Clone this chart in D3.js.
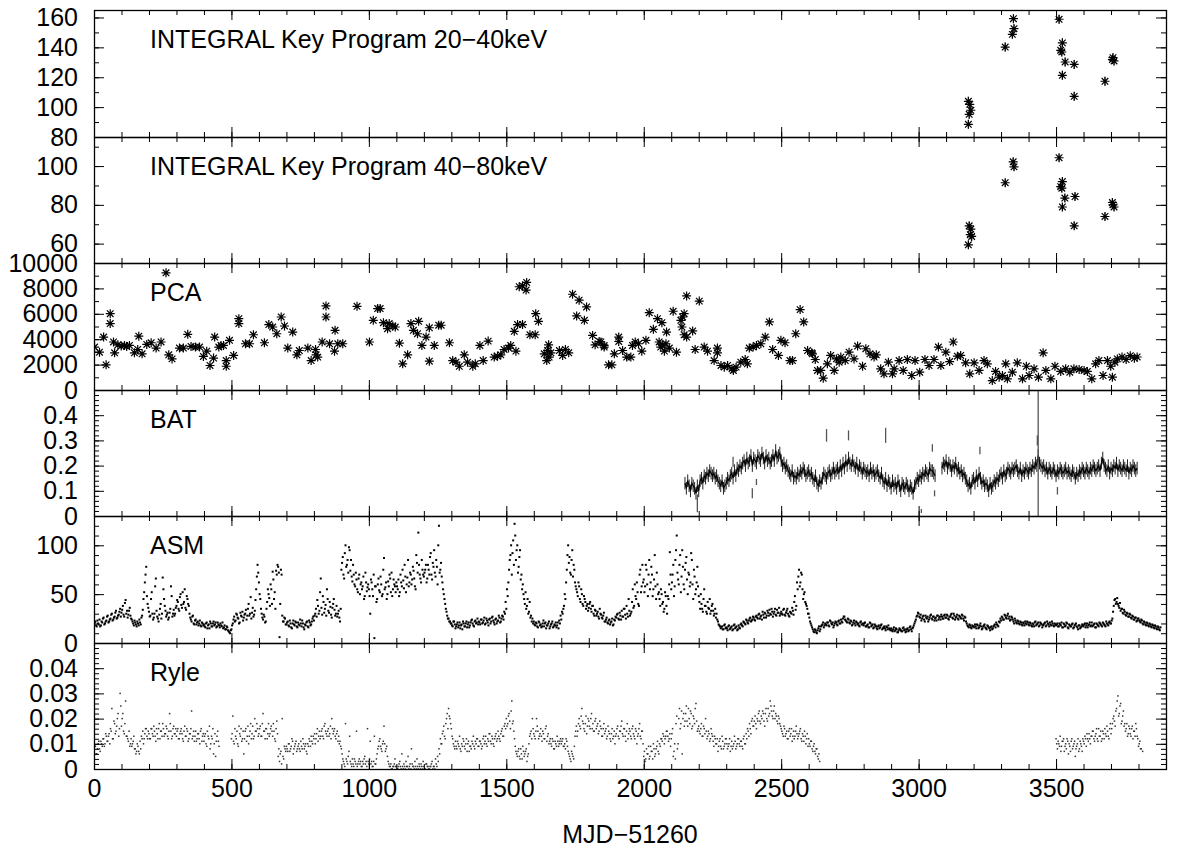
<!DOCTYPE html>
<html>
<head>
<meta charset="utf-8">
<script src="https://cdn.jsdelivr.net/npm/d3@7"></script>
<style>
  body { margin: 0; background: #fff; }
</style>
</head>
<body>
<script>

// ---- data ----

// INTEGRAL Key Programme, [day, flux, err]
const ibis2040 = [[3181,88.5,3],[3184,95.2,3],[3190,97.9,3],[3186,101.9,3],[3181,103.9,3],[3315,140.2,3],[3341,148.7,3],[3347,152.5,3],[3345,159.2,3],[3511,158.8,3],[3517,138.0,3],[3523,143.0,3],[3521,136.9,3],[3523,121.3,3],[3533,130.2,3],[3566,128.6,3],[3566,107.2,3],[3678,117.3,3],[3705,131.8,3],[3711,130.9,3],[3707,133.1,3]];
const ibis4080 = [[3181,59.4,2],[3184,69.2,2],[3190,67.5,2],[3188,64.6,2],[3193,63.7,2],[3315,91.4,2],[3344,102.2,2],[3347,99.6,2],[3511,104.3,2],[3523,92.0,2],[3517,89.4,2],[3521,88.6,2],[3532,83.5,2],[3569,84.3,2],[3523,78.9,2],[3566,69.2,2],[3678,74.0,2],[3705,81.2,2],[3711,78.9,2],[3707,80.0,2]];

// RXTE PCA, [day, rate]
const pca = [[2,3380],[20,2980],[35,4170],[44,1980],[59,6010],[59,5230],[71,3780],[75,2930],[87,3560],[99,3460],[111,3510],[119,3430],[129,3510],[147,2930],[159,3190],[163,4240],[175,2850],[192,3590],[208,3720],[226,3300],[244,3780],[262,9230],[272,2770],[284,2450],[311,3300],[325,3300],[341,4380],[353,3430],[369,3380],[384,3380],[398,2640],[410,3060],[422,1930],[435,2510],[439,4170],[454,3380],[462,3510],[471,3510],[481,2320],[481,1870],[493,3910],[508,2720],[527,5620],[527,5230],[551,3640],[566,3640],[580,4350],[620,3720],[636,5150],[650,4960],[665,4430],[681,5750],[693,5040],[705,3300],[723,4560],[738,2770],[747,3110],[778,3300],[790,2320],[806,3190],[808,2770],[814,2590],[830,3780],[844,5750],[844,6620],[857,3640],[875,3060],[877,4700],[887,3640],[905,3640],[957,6590],[1002,3780],[1016,5490],[1032,6410],[1041,6410],[1053,5300],[1068,4830],[1074,5230],[1087,5040],[1096,4960],[1111,3690],[1123,2060],[1141,2770],[1153,5230],[1162,4700],[1177,4430],[1181,5410],[1193,3510],[1208,4170],[1220,2270],[1220,4900],[1238,3510],[1254,5100],[1263,5100],[1293,3720],[1305,2320],[1317,2190],[1329,1870],[1347,2770],[1359,2190],[1378,1870],[1387,2060],[1404,3510],[1416,2320],[1434,3850],[1456,2590],[1468,2660],[1480,2770],[1492,3190],[1508,3300],[1516,3510],[1529,4620],[1535,3060],[1541,5150],[1547,8130],[1559,5150],[1559,8210],[1572,7870],[1574,8470],[1586,4350],[1605,4350],[1607,6010],[1617,5410],[1638,2850],[1647,2320],[1650,3110],[1654,3560],[1656,2590],[1662,2930],[1693,3110],[1705,2720],[1715,3190],[1727,2930],[1741,7540],[1756,5830],[1765,7070],[1784,5490],[1792,6540],[1814,4300],[1823,3560],[1838,3820],[1844,3780],[1856,3510],[1856,3380],[1872,1980],[1884,1980],[1893,2850],[1909,4170],[1909,3820],[1923,3110],[1938,2590],[1953,2590],[1959,3510],[1969,3780],[1981,3640],[1993,3060],[2008,3910],[2020,6090],[2035,4780],[2050,5620],[2056,3780],[2062,3380],[2066,5300],[2068,3560],[2075,3060],[2081,3640],[2083,4560],[2093,3300],[2107,6200],[2119,2980],[2135,5490],[2139,4960],[2141,5750],[2147,6010],[2147,4350],[2156,7410],[2156,4170],[2178,4650],[2187,3190],[2202,7000],[2220,3380],[2232,3060],[2256,2320],[2268,3300],[2268,2930],[2281,1930],[2293,1800],[2305,1930],[2321,1670],[2326,1540],[2336,1800],[2353,2190],[2369,2400],[2377,2060],[2384,3300],[2398,3380],[2410,3510],[2426,3640],[2442,4170],[2457,5360],[2469,3190],[2490,2720],[2499,3910],[2514,3720],[2532,2320],[2541,2320],[2553,4430],[2569,6330],[2582,5360],[2596,3110],[2611,2930],[2614,2850],[2624,2400],[2632,1540],[2644,1540],[2653,930],[2668,2060],[2680,2720],[2693,1540],[2701,2450],[2711,2190],[2717,2590],[2733,2320],[2747,2980],[2765,2450],[2778,3460],[2796,1870],[2808,3250],[2823,2850],[2838,2590],[2846,2770],[2862,1670],[2874,1270],[2890,2190],[2905,1270],[2911,1670],[2929,2320],[2944,1540],[2959,2400],[2975,1140],[2987,2320],[3004,1400],[3023,2400],[3038,1930],[3056,2400],[3072,3380],[3081,1930],[3099,2980],[3113,2240],[3126,3780],[3141,2660],[3153,2720],[3171,2140],[3186,1270],[3202,2140],[3220,1540],[3238,2320],[3250,2060],[3268,740],[3280,1460],[3293,1010],[3305,1140],[3317,2060],[3323,880],[3341,1400],[3359,2140],[3378,880],[3392,1870],[3402,1140],[3420,1670],[3436,1010],[3453,2930],[3463,1540],[3481,880],[3496,1870],[3517,1460],[3535,1670],[3550,1400],[3565,1670],[3584,1620],[3602,1540],[3614,1460],[3630,880],[3644,2060],[3656,2320],[3671,1140],[3687,2320],[3699,1870],[3705,1010],[3714,2190],[3723,2450],[3740,2600],[3755,2400],[3770,2700],[3785,2500],[3795,2600]];

// Swift BAT, one value every 5 days from day 2150 (null = no data)
const batStart = 2150, batStep = 5, batErr = 0.025;
const batRate = [
  .13,.11,.14,.12,.10,.13,.12,.11,.09,.12,.10,.14,.15,.13,.16,.15,.17,.16,.18,.17,
  .16,.17,.15,.16,.14,.13,.12,.14,.11,.12,.13,.15,.14,.16,.17,.15,.18,.16,.19,.18,
  .20,.19,.21,.22,.20,.23,.21,.22,.24,.20,.23,.22,.21,.24,.23,.22,.25,.23,.21,.24,
  .22,.23,.21,.22,.24,.22,.26,.23,.24,.25,.22,.20,.21,.19,.20,.18,.17,.16,.18,.15,
  .16,.15,.17,.16,.18,.17,.19,.18,.16,.17,.18,.16,.17,.15,.14,.16,.13,.12,.14,.13,
  .15,.17,.16,.15,.17,.18,.16,.17,.19,.17,.18,.19,.17,.20,.18,.21,.19,.22,.20,.23,
  .21,.20,.22,.20,.19,.21,.18,.20,.19,.17,.19,.18,.17,.18,.16,.19,.17,.18,.16,.17,
  .18,.16,.15,.17,.14,.13,.15,.12,.14,.13,.11,.14,.12,.13,.11,.14,.12,.10,.13,.12,
  .11,.13,.12,.10,.12,.11,.09,.12,.13,.15,.14,.16,.15,.17,.16,.18,.17,.16,.19,.18,
  .18,.17,.16,null,null,null,null,.19,.21,.20,.22,.19,.21,.20,.18,.20,.19,.21,.18,.19,
  .17,.18,.16,.17,.15,.14,.12,.13,.11,.14,.15,.13,.16,.14,.17,.15,.13,.14,.12,.13,
  .12,.10,.13,.11,.12,.14,.13,.15,.14,.16,.17,.15,.18,.16,.17,.19,.18,.17,.19,.18,
  .19,.20,.18,.17,.19,.16,.18,.17,.19,.18,.17,.19,.18,.20,.19,.21,.20,.24,.21,.20,
  .19,.20,.18,.19,.17,.19,.18,.17,.19,.18,.16,.18,.17,.19,.18,.17,.18,.19,.17,.18,
  .17,.16,.18,.17,.15,.17,.16,.18,.17,.19,.18,.17,.19,.18,.17,.19,.18,.20,.19,.18,
  .19,.20,.18,.21,.23,.20,.19,.18,.20,.17,.19,.18,.20,.19,.21,.18,.20,.19,.18,.20,
  .19,.18,.20,.17,.19,.18,.20,.19,.18,.19
];
// BAT points with large errors, [day, rate, err]
const batOutliers = [[2195,0.05,0.035],[2325,0.215,0.02],[2395,0.09,0.02],[2410,0.135,0.012],[2665,0.32,0.025],[2745,0.32,0.02],[2880,0.32,0.03],[3010,0.02,0.008],[3050,0.27,0.015],[3058,0.09,0.012],[3223,0.26,0.015],[3432,0.30,0.02],[3435,0.2,0.6],[3505,0.10,0.015]];

// RXTE ASM, two interleaved runs, one value every 5 days each
const asmStep = 5;
const asmStartA = 0;
const asmRateA = [
  19,22,17,20,24,18,21,26,20,23,28,22,25,30,24,27,33,26,29,35,
  31,38,27,44,33,29,36,25,22,18,21,17,20,24,19,28,45,62,78,40,
  32,28,52,24,30,66,27,22,35,25,67,45,33,29,24,31,58,27,34,30,
  38,42,33,50,36,40,55,34,45,38,26,22,28,19,24,21,18,23,17,20,
  19,16,21,18,15,20,17,22,19,16,21,18,20,17,15,18,14,16,12,10,
  14,20,27,23,29,25,21,28,32,26,30,24,35,28,47,31,27,33,55,80,
  62,45,30,24,27,22,42,50,38,55,73,45,35,70,78,6,75,28,22,25,
  19,22,17,20,15,23,18,21,16,19,24,17,20,14,18,22,16,21,19,25,
  23,30,27,38,33,66,29,42,35,28,45,31,37,26,40,34,30,27,33,22,
  75,88,66,100,80,72,95,85,63,70,58,65,52,70,60,55,68,48,62,57,
  55,30,62,48,5,58,45,66,52,60,50,87,57,45,63,70,52,48,65,58,
  62,55,48,70,58,64,80,52,67,58,72,60,78,66,55,82,113,70,62,75,
  68,75,62,80,70,92,65,78,72,85,60,120,75,68,55,45,35,28,25,22,
  20,17,22,15,19,16,21,18,14,20,17,22,19,16,21,24,18,22,20,25,
  22,19,24,21,26,20,23,18,25,22,27,21,24,20,23,26,22,28,24,30,
  35,48,75,90,70,105,122,85,100,78,95,70,60,45,52,38,30,42,28,25,
  22,18,20,16,21,19,17,23,20,15,18,22,17,20,16,19,21,18,15,20,
  24,30,38,45,75,100,88,70,95,80,62,55,48,58,42,50,38,45,35,40,
  36,42,32,38,28,33,30,27,35,29,25,31,22,26,20,24,21,25,19,23,
  26,30,24,28,33,27,35,25,30,45,28,32,55,38,48,62,40,70,52,80,
  65,58,75,48,85,62,70,55,90,45,60,52,38,50,42,35,48,30,45,93,
  55,70,48,85,110,65,80,52,95,60,75,88,50,70,62,85,45,68,55,78,
  48,35,40,32,55,38,30,36,45,33,40,28,35,30,22,18,15,17,14,19,
  16,13,18,15,17,14,19,16,13,18,15,20,17,21,19,23,20,25,22,24,
  26,23,28,25,30,27,24,29,31,26,33,28,30,35,27,32,29,34,31,28,
  32,29,35,28,33,30,27,31,36,29,48,38,55,75,62,70,45,52,40,35,
  30,22,18,14,11,13,10,15,12,17,19,16,20,18,21,17,22,19,16,20,
  21,18,23,20,22,25,27,23,21,24,20,22,19,23,18,21,20,17,22,19,
  18,21,17,19,16,20,18,15,19,17,14,18,16,19,15,17,13,16,18,14,
  15,12,16,13,14,11,15,13,12,16,14,12,15,13,17,12,16,20,24,28,
  30,26,23,27,24,28,25,22,26,29,24,27,25,23,28,26,24,27,25,29,
  26,28,24,27,30,25,28,26,29,24,27,25,28,23,26,20,17,19,16,18,
  17,19,15,18,16,20,14,17,19,15,18,16,13,17,15,18,16,19,17,21,
  23,26,24,28,25,30,27,24,26,22,25,21,23,20,22,19,21,18,20,22,
  19,21,18,20,17,22,19,21,18,20,16,19,21,18,20,17,19,22,18,20,
  18,20,17,19,21,16,19,18,20,15,18,17,20,16,19,17,14,18,16,19,
  17,20,18,16,19,17,21,18,20,16,19,17,20,18,21,19,17,20,18,22,
  20,25,38,45,42,40,36,33,35,30,32,28,30,27,29,25,27,24,26,23,
  25,22,24,20,22,19,21,18,20,17,19,16,18,15,17,14,16
];
const asmStartB = 2.5;
const asmRateB = [
  21,18,23,19,17,22,25,19,22,27,21,24,29,23,26,31,25,28,32,27,
  34,29,41,30,26,33,28,24,20,23,19,22,18,21,26,34,52,70,48,36,
  27,45,30,26,58,33,25,29,40,30,55,38,27,31,26,35,48,30,28,36,
  44,35,47,39,52,42,36,48,40,30,24,27,20,23,19,22,20,18,21,18,
  17,20,15,19,22,17,20,18,21,17,19,16,18,21,16,14,17,13,11,13,
  18,24,22,30,26,20,31,27,23,29,34,28,40,30,25,36,29,44,68,72,
  50,35,26,29,21,35,55,46,60,40,65,52,74,80,72,40,70,22,26,19,
  21,18,23,16,20,19,22,17,21,18,20,23,16,19,21,17,23,18,22,27,
  28,35,44,30,52,36,48,31,39,55,33,42,29,36,45,28,38,30,26,35,
  82,70,92,78,85,98,74,68,80,60,72,55,66,50,62,58,45,72,53,60,
  48,65,55,70,58,42,60,54,68,48,75,55,62,50,58,66,72,55,60,52,
  58,65,52,62,75,56,68,60,85,62,70,65,74,58,90,72,80,66,85,70,
  72,80,66,75,88,70,82,95,68,78,100,72,82,62,50,40,32,25,22,20,
  18,22,19,17,21,18,15,19,22,17,20,16,21,18,23,20,17,23,21,19,
  21,24,20,23,19,25,21,24,20,26,23,19,25,22,28,21,25,27,32,42,
  55,62,85,100,92,80,110,95,72,88,65,55,50,40,35,45,32,26,22,20,
  19,21,17,22,18,16,20,17,21,18,20,15,19,22,17,18,16,21,23,28,
  32,35,50,62,90,82,72,85,68,75,58,52,62,45,55,40,48,42,38,33,
  40,35,38,30,34,28,32,25,30,26,28,22,24,21,23,19,22,18,24,27,
  29,25,31,24,27,35,29,38,27,33,30,42,36,60,45,52,38,75,58,62,
  52,80,60,70,55,78,48,65,58,72,50,45,55,40,32,52,38,48,60,70,
  62,80,58,95,72,60,90,68,78,55,82,65,72,58,92,60,75,50,62,58,
  42,50,35,45,38,32,42,35,30,38,33,30,26,24,19,17,16,14,18,15,
  15,17,14,16,13,18,15,17,14,16,19,18,22,20,24,21,23,26,23,27,
  24,27,26,29,25,28,32,26,30,28,31,34,29,32,30,35,28,31,36,30,
  30,34,29,31,35,28,32,30,33,42,34,62,68,58,72,55,50,42,38,30,
  26,20,16,12,14,11,13,17,14,18,21,18,19,21,18,23,20,21,18,22,
  19,22,20,24,21,27,24,22,25,21,23,18,21,20,22,19,18,21,19,20,
  20,17,18,16,21,17,19,16,18,15,17,15,18,14,16,15,17,14,15,13,
  13,14,12,15,11,13,14,12,15,13,11,14,12,16,14,15,18,22,27,31,
  27,29,25,28,22,26,27,24,28,25,27,23,26,28,24,27,29,25,28,26,
  29,25,27,29,26,30,24,27,25,28,26,29,25,27,22,18,16,18,15,17,
  16,17,19,15,18,17,15,18,16,14,17,15,16,14,17,19,21,18,22,25,
  27,24,29,26,28,25,23,27,24,20,23,20,22,19,21,18,20,22,19,21,
  18,20,17,19,21,18,20,17,21,19,18,20,17,22,19,21,18,20,17,19,
  19,17,20,18,16,20,17,21,16,19,17,19,15,18,20,16,18,15,17,18,
  19,16,20,18,21,18,17,19,16,20,18,21,19,17,20,18,22,19,21,20,
  23,32,44,40,46,38,41,35,31,34,29,31,27,30,26,28,24,26,22,25,
  23,21,23,19,21,18,20,17,19,16,18,15,17,14,16,13
];

// Ryle radio flux: three observing stretches, two interleaved runs each, one value every 5 days
const ryleStep = 5;
const ryleStartA = 0;
const ryleA = [
  .007,.009,.006,.010,.008,.011,.009,.012,.010,.013,.011,.014,.016,.024,.012,.018,.015,.020,.013,.030,
  .017,.022,.014,.027,.013,.011,.009,.012,.010,.013,.008,.007,.009,.006,.008,.012,.010,.014,.016,.012,
  .014,.012,.016,.013,.015,.011,.014,.016,.012,.015,.018,.013,.014,.016,.012,.022,.015,.013,.017,.014,
  .013,.016,.012,.015,.014,.011,.017,.013,.015,.012,.014,.023,.013,.011,.015,.012,.014,.010,.016,.013,
  .011,.014,.009,.013,.017,.010,.012,.006,.014,.011,.015,.009
];
const ryleA2 = [
  .009,.006,.008,.011,.007,.010,.012,.009,.014,.011,.013,.010,.015,.012,.019,.014,.017,.022,.016,.025,
  .020,.015,.018,.013,.012,.015,.010,.009,.011,.008,.006,.010,.007,.011,.013,.015,.012,.016,.013,.015,
  .012,.016,.014,.017,.013,.016,.012,.018,.015,.013,.016,.014,.017,.013,.015,.018,.012,.016,.014,.016,
  .015,.012,.014,.016,.012,.015,.013,.016,.011,.014,.016,.012,.015,.013,.011,.014,.012,.015,.011,.014,
  .013,.010,.015,.012,.008,.013,.016,.010,.005,.013,.011
];
const ryleStartB = 500;
const ryleB = [
  .012,.021,.010,.013,.015,.009,.014,.016,.012,.006,.015,.011,.017,.013,.018,.014,.012,.020,.015,.016,
  .014,.017,.013,.022,.015,.016,.012,.018,.014,.017,.013,.015,.011,.019,.005,.003,.007,.020,.004,.008,
  .009,.007,.010,.008,.012,.006,.009,.011,.008,.010,.007,.009,.012,.008,.010,.006,.009,.011,.013,.010,
  .012,.010,.014,.011,.015,.013,.016,.012,.018,.014,.015,.013,.017,.020,.014,.016,.012,.015,.013,.011,
  .008,.004,.002,.018,.003,.005,.013,.002,.004,.001,.003,.015,.002,.004,.003,.001,.002,.005,.003,.016,
  .002,.011,.003,.001,.013,.002,.006,.009,.012,.008,.010,.017,.007,.009,.003,.001,.002,.000,.001,.004,
  .001,.000,.002,.001,.006,.000,.001,.003,.001,.000,.002,.008,.001,.000,.001,.004,.000,.001,.002,.000,
  .001,.000,.002,.001,.000,.001,.003,.001,.000,.002,.005,.008,.012,.010,.015,.013,.018,.022,.024,.020,
  .016,.012,.009,.011,.008,.010,.013,.007,.009,.011,.008,.012,.010,.007,.009,.011,.013,.008,.010,.012,
  .009,.011,.008,.012,.010,.013,.009,.011,.014,.010,.012,.009,.013,.011,.015,.012,.014,.016,.013,.018,
  .020,.018,.022,.016,.027,.019,.012,.007,.005,.008,.004,.006,.009,.005,.007,.003,.006,.013,.015,.020,
  .014,.012,.020,.015,.013,.016,.011,.014,.012,.017,.013,.010,.012,.009,.011,.008,.010,.013,.009,.011,
  .010,.012,.009,.008,.011,.007,.005,.003,.006,.004,.013,.017,.015,.020,.016,.024,.018,.015,.021,.017,
  .019,.016,.022,.018,.015,.020,.017,.014,.019,.016,.013,.018,.015,.012,.017,.014,.011,.016,.013,.010,
  .014,.017,.012,.015,.019,.013,.016,.011,.018,.014,.015,.012,.017,.013,.016,.010,.014,.018,.012,.015,
  .005,.003,.008,.006,.004,.009,.007,.010,.005,.008,.011,.006,.009,.012,.014,.010,.013,.015,.011,.014,
  .012,.016,.007,.004,.021,.010,.024,.018,.006,.022,.019,.025,.017,.020,.023,.016,.021,.018,.026,.015,
  .017,.014,.018,.013,.016,.020,.012,.015,.011,.016,.013,.009,.012,.010,.007,.011,.009,.013,.008,.010,
  .012,.008,.010,.007,.011,.009,.013,.008,.010,.012,.009,.011,.008,.013,.010,.012,.015,.018,.014,.020,
  .017,.021,.016,.019,.023,.018,.020,.022,.017,.024,.019,.021,.027,.023,.020,.025,.022,.019,.021,.018,
  .016,.014,.017,.013,.015,.012,.016,.014,.011,.015,.013,.017,.012,.014,.016,.011,.013,.015,.010,.014,
  .012,.009,.011,.007,.010,.006,.008,.004,.003
];
const ryleB2 = [
  .014,.011,.016,.012,.010,.017,.013,.011,.015,.012,.016,.013,.010,.015,.012,.017,.013,.015,.018,.013,
  .016,.013,.018,.015,.012,.016,.014,.013,.016,.015,.018,.012,.016,.014,.008,.006,.002,.005,.009,.007,
  .008,.010,.007,.009,.011,.008,.010,.007,.009,.008,.011,.008,.010,.009,.007,.010,.012,.009,.011,.013,
  .014,.012,.016,.013,.012,.015,.013,.017,.015,.013,.016,.014,.012,.016,.015,.013,.014,.011,.010,.009,
  .006,.003,.001,.004,.002,.007,.003,.001,.002,.004,.002,.001,.003,.002,.001,.003,.004,.002,.001,.003,
  .004,.002,.001,.003,.002,.004,.008,.011,.009,.007,.011,.010,.008,.005,.002,.001,.000,.001,.002,.001,
  .000,.001,.003,.000,.001,.002,.000,.001,.005,.001,.000,.002,.001,.003,.000,.001,.002,.000,.001,.003,
  .000,.002,.001,.000,.001,.002,.000,.001,.004,.001,.003,.006,.010,.014,.017,.012,.020,.016,.021,.018,
  .013,.010,.008,.009,.011,.009,.008,.010,.012,.009,.010,.007,.011,.009,.008,.010,.009,.011,.012,.009,
  .011,.010,.009,.013,.011,.010,.012,.014,.011,.013,.010,.012,.014,.012,.013,.011,.015,.013,.017,.016,
  .017,.021,.019,.023,.018,.015,.009,.006,.007,.005,.008,.004,.007,.006,.008,.005,.010,.014,.012,.016,
  .013,.015,.017,.012,.014,.013,.015,.012,.016,.011,.014,.011,.010,.012,.008,.011,.009,.011,.010,.012,
  .011,.009,.010,.012,.009,.006,.004,.007,.005,.009,.015,.013,.018,.017,.021,.019,.016,.018,.014,.020,
  .017,.020,.016,.015,.019,.016,.018,.015,.017,.013,.016,.014,.016,.013,.015,.012,.014,.012,.015,.013,
  .016,.013,.015,.017,.014,.016,.013,.015,.012,.016,.013,.016,.014,.012,.015,.013,.016,.013,.015,.010,
  .007,.004,.006,.009,.005,.007,.004,.008,.006,.009,.007,.010,.012,.011,.013,.012,.015,.013,.012,.009,
  .014,.005,.010,.018,.008,.020,.016,.023,.020,.017,.022,.019,.024,.018,.022,.017,.020,.024,.019,.016,
  .015,.016,.013,.017,.014,.015,.013,.014,.012,.014,.011,.013,.010,.012,.009,.012,.008,.011,.009,.012,
  .010,.009,.012,.009,.008,.010,.011,.009,.012,.010,.011,.009,.012,.010,.014,.016,.013,.016,.019,.017,
  .019,.018,.020,.022,.019,.021,.023,.019,.022,.020,.024,.022,.025,.021,.023,.020,.021,.018,.020,.017,
  .015,.013,.016,.014,.012,.015,.013,.016,.013,.012,.015,.014,.013,.015,.012,.014,.011,.013,.012,.009,
  .010,.011,.008,.009,.007,.008,.005,.006
];
const ryleStartC = 3500;
const ryleC = [
  .012,.008,.010,.013,.009,.011,.007,.010,.012,.006,.009,.011,.008,.010,.005,.009,.012,.008,.010,.007,
  .011,.013,.009,.012,.014,.010,.013,.015,.011,.014,.012,.016,.013,.011,.015,.012,.014,.017,.013,.016,
  .014,.018,.021,.017,.024,.029,.022,.026,.019,.023,.018,.016,.013,.017,.014,.016,.012,.015,.018,.013,
  .009,.011,.008,.007
];
const ryleC2 = [
  .010,.011,.009,.007,.011,.012,.009,.008,.011,.010,.007,.012,.009,.011,.008,.010,.007,.011,.009,.012,
  .010,.012,.014,.011,.012,.013,.015,.012,.013,.016,.011,.013,.015,.012,.014,.016,.013,.015,.012,.018,
  .016,.020,.019,.023,.027,.021,.025,.018,.021,.017,.015,.018,.014,.016,.013,.017,.015,.013,.016,.012,
  .010,.008
];

// axis ticks
const xMajor = [0, 500, 1000, 1500, 2000, 2500, 3000, 3500];
const ibis2040Ticks = [80, 100, 120, 140, 160];
const ibis4080Ticks = [60, 80, 100];
const pcaTicks = [0, 2000, 4000, 6000, 8000, 10000];
const batTicks = [0, 0.1, 0.2, 0.3, 0.4];
const asmTicks = [0, 50, 100];
const ryleTicks = [0, 0.01, 0.02, 0.03, 0.04];

// ---- layout ----
const W = 1184, H = 850;
const padL = 94, padR = 1166, padT = 10, panelH = 126.5;
const font = "'Liberation Sans', Arial, Helvetica, sans-serif";

const x = d3.scaleLinear().domain([0, 3900]).range([padL, padR]);

const svg = d3.select("body").append("svg")
  .attr("width", W).attr("height", H)
  .style("background", "#fff");

const series = (vals, start) => vals.map((v, k) => [start + k * 5, v]);

const panels = [
  {name: "INTEGRAL Key Program 20\u221240keV", domain: [80, 165], ticks: ibis2040Ticks, minor: 10, kind: "star", data: ibis2040},
  {name: "INTEGRAL Key Program 40\u221280keV", domain: [50, 115], ticks: ibis4080Ticks, minor: 10, kind: "star", data: ibis4080},
  {name: "PCA", domain: [0, 10000], ticks: pcaTicks, minor: 1000, kind: "star", data: pca},
  {name: "BAT", domain: [0, 0.5], ticks: batTicks, minor: 0.02, kind: "bat"},
  {name: "ASM", domain: [0, 130], ticks: asmTicks, minor: 10, kind: "dots", size: 2, color: "#000",
   data: [].concat(series(asmRateA, asmStartA), series(asmRateB, asmStartB))},
  {name: "Ryle", domain: [0, 0.05], ticks: ryleTicks, minor: 0.002, kind: "dots", size: 1.5, color: "#333",
   data: [].concat(series(ryleA, ryleStartA), series(ryleA2, ryleStartA + 2.5),
                   series(ryleB, ryleStartB), series(ryleB2, ryleStartB + 2.5),
                   series(ryleC, ryleStartC), series(ryleC2, ryleStartC + 2.5))}
];

const starPath = "M-4.5,0H4.5M0,-4.5V4.5M-3.3,-3.3L3.3,3.3M-3.3,3.3L3.3,-3.3";

panels.forEach((p, i) => {
  const y0 = Math.round(padT + i * panelH), y1 = Math.round(padT + (i + 1) * panelH);
  const y = d3.scaleLinear().domain(p.domain).range([y1, y0]);
  const g = svg.append("g");

  const clipId = "clip" + i;
  svg.append("clipPath").attr("id", clipId)
    .append("rect").attr("x", padL).attr("y", y0).attr("width", padR - padL).attr("height", y1 - y0);
  const plot = g.append("g").attr("clip-path", `url(#${clipId})`);

  // ---- marks ----
  if (p.kind === "star") {
    plot.selectAll("line.err").data(p.data.filter(d => d[2])).join("line")
      .attr("x1", d => x(d[0])).attr("x2", d => x(d[0]))
      .attr("y1", d => y(d[1] - d[2])).attr("y2", d => y(d[1] + d[2]))
      .attr("stroke", "#555").attr("stroke-width", 1);
    plot.selectAll("path.star").data(p.data).join("path")
      .attr("d", starPath)
      .attr("transform", d => `translate(${x(d[0])},${y(d[1])})`)
      .attr("fill", "none").attr("stroke", "#000").attr("stroke-width", 1.2);
  }

  if (p.kind === "bat") {
    const pts = batRate.map((v, k) => [batStart + k * batStep, v]);
    plot.selectAll("line.err").data(pts.filter(d => d[1] != null)).join("line")
      .attr("x1", d => x(d[0])).attr("x2", d => x(d[0]))
      .attr("y1", d => y(d[1] - batErr)).attr("y2", d => y(d[1] + batErr))
      .attr("stroke", "#222").attr("stroke-width", 1);
    const line = d3.line().defined(d => d[1] != null).x(d => x(d[0])).y(d => y(d[1]));
    plot.append("path").datum(pts).attr("d", line)
      .attr("fill", "none").attr("stroke", "#000").attr("stroke-width", 1.2);
    plot.selectAll("line.out").data(batOutliers).join("line")
      .attr("x1", d => x(d[0])).attr("x2", d => x(d[0]))
      .attr("y1", d => y(d[1] - d[2])).attr("y2", d => y(d[1] + d[2]))
      .attr("stroke", "#555").attr("stroke-width", 1.3);
  }

  if (p.kind === "dots") {
    plot.selectAll("rect").data(p.data).join("rect")
      .attr("x", d => x(d[0]) - p.size / 2).attr("y", d => y(d[1]) - p.size / 2)
      .attr("width", p.size).attr("height", p.size).attr("fill", p.color);
  }

  // ---- axes ----
  const yMinor = d3.range(p.domain[0], p.domain[1] + p.minor / 2, p.minor).map(v => +v.toFixed(6));
  const xMinor = d3.range(0, 3901, 100);
  const styleAxis = a => {
    a.select(".domain").remove();
    a.attr("font-size", 25).attr("font-family", font);
    a.selectAll("line").attr("stroke", "#000");
    a.selectAll("text").attr("fill", "#000");
  };

  g.append("g").attr("transform", `translate(${padL},0)`)
    .call(d3.axisLeft(y).tickValues(yMinor).tickSizeInner(-5).tickSizeOuter(0).tickFormat(""))
    .call(styleAxis);
  g.append("g").attr("transform", `translate(${padL},0)`)
    .call(d3.axisLeft(y).tickValues(p.ticks).tickSizeInner(-10).tickSizeOuter(0).tickPadding(16).tickFormat(d3.format("~g")))
    .call(styleAxis);
  g.append("g").attr("transform", `translate(${padR},0)`)
    .call(d3.axisRight(y).tickValues(yMinor).tickSizeInner(-5).tickSizeOuter(0).tickFormat(""))
    .call(styleAxis);
  g.append("g").attr("transform", `translate(${padR},0)`)
    .call(d3.axisRight(y).tickValues(p.ticks).tickSizeInner(-10).tickSizeOuter(0).tickFormat(""))
    .call(styleAxis);

  g.append("g").attr("transform", `translate(0,${y0})`)
    .call(d3.axisTop(x).tickValues(xMinor).tickSizeInner(-5).tickSizeOuter(0).tickFormat(""))
    .call(styleAxis);
  g.append("g").attr("transform", `translate(0,${y0})`)
    .call(d3.axisTop(x).tickValues(xMajor).tickSizeInner(-10).tickSizeOuter(0).tickFormat(""))
    .call(styleAxis);
  g.append("g").attr("transform", `translate(0,${y1})`)
    .call(d3.axisBottom(x).tickValues(xMinor).tickSizeInner(-5).tickSizeOuter(0).tickFormat(""))
    .call(styleAxis);
  const last = i === panels.length - 1;
  g.append("g").attr("transform", `translate(0,${y1})`)
    .call(d3.axisBottom(x).tickValues(xMajor).tickSizeInner(-10).tickSizeOuter(0).tickPadding(10)
      .tickFormat(last ? d3.format("d") : ""))
    .call(styleAxis);

  // frame
  g.append("rect")
    .attr("x", padL + 0.5).attr("y", y0 + 0.5)
    .attr("width", padR - padL).attr("height", y1 - y0)
    .attr("fill", "none").attr("stroke", "#000").attr("stroke-width", 1.3);

  // panel label
  g.append("text")
    .attr("x", 150).attr("y", y0 + 38)
    .attr("font-family", font).attr("font-size", 25)
    .text(p.name);
});

svg.append("text")
  .attr("x", (padL + padR) / 2).attr("y", 843)
  .attr("text-anchor", "middle")
  .attr("font-family", font).attr("font-size", 25)
  .text("MJD\u221251260");

</script>
</body>
</html>
